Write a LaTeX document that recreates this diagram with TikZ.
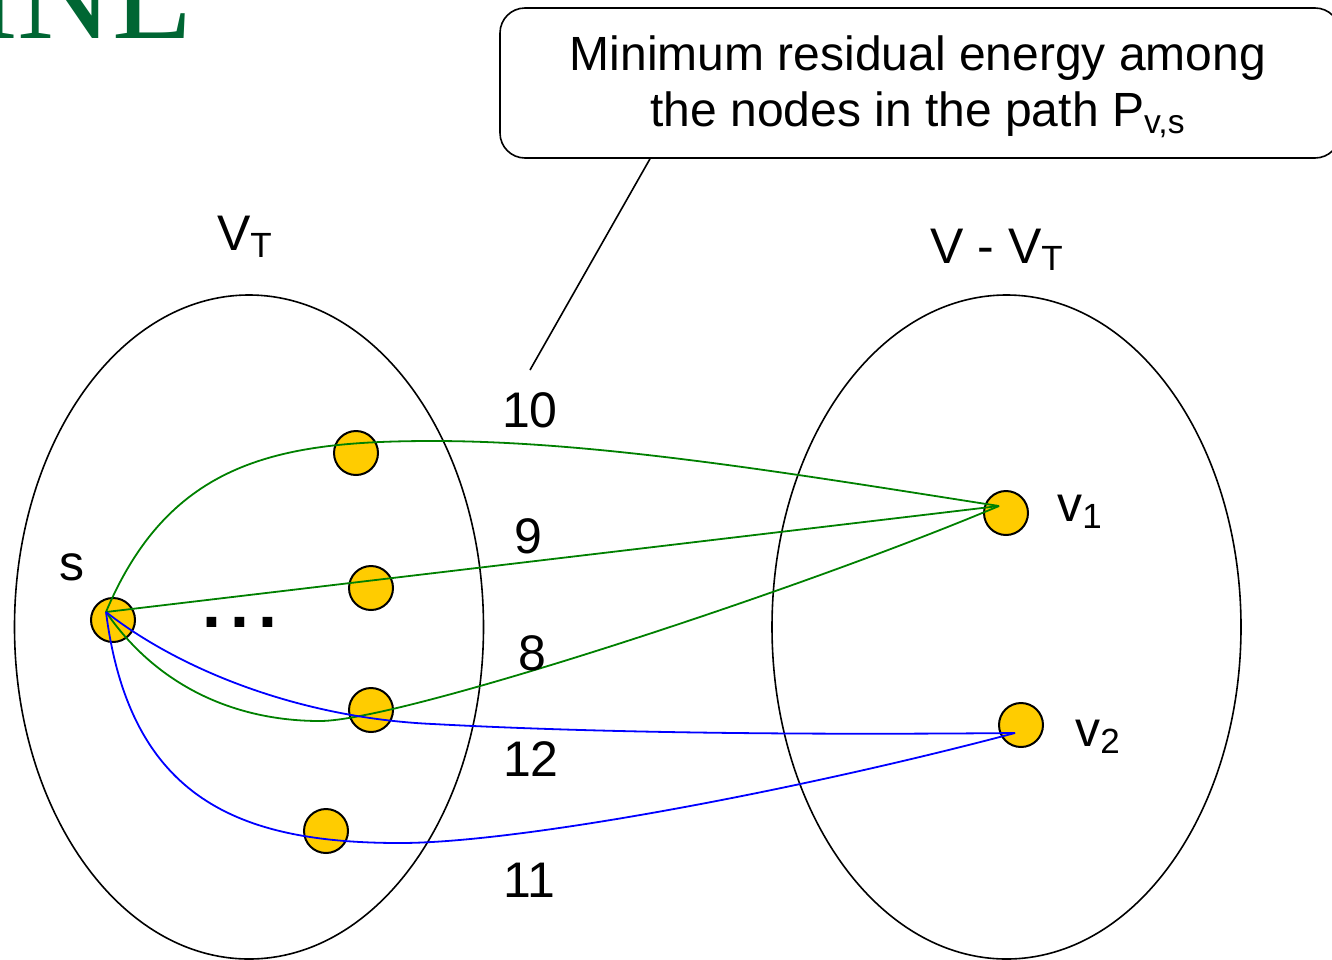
\documentclass[tikz,border=0pt]{standalone}
\usepackage{fontspec}
\setmainfont{Liberation Sans}
\newfontfamily\logofont{Liberation Serif}
\definecolor{vertexfill}{RGB}{255,204,0}
\definecolor{pathgreen}{RGB}{0,128,0}
\definecolor{pathblue}{RGB}{0,0,255}
\definecolor{logogreen}{RGB}{0,102,51}

\begin{document}
\begin{tikzpicture}[x=0.5pt,y=-0.5pt,
  vertex/.style={circle,draw,line width=1pt,fill=vertexfill,minimum size=22pt,inner sep=0pt},
  gpath/.style={pathgreen,line width=0.9pt},
  bpath/.style={pathblue,line width=0.9pt},
  set/.style={line width=0.8pt},
  callout/.style={draw,line width=0.8pt,rounded corners=12.5pt,minimum width=420pt,
    minimum height=75pt},
  lbl/.style={font=\fontsize{25}{30}\selectfont,inner sep=0pt}]
  \useasboundingbox (0,0) rectangle (1332,959);
  % Logo, cut by the page edge.
  \node[anchor=base east,inner sep=0pt,text=logogreen,
    font=\logofont\fontsize{66}{66}\selectfont] (logo) at (194,38) {MNL};
  % The two vertex sets V_T and V - V_T.
  \draw[set] (249,627) ellipse [x radius=234.5,y radius=332];
  \draw[set] (1006.5,627) ellipse [x radius=234.5,y radius=332];
  \node[lbl] (lVT) at (245,237) {V\textsubscript{T}};
  \node[lbl] (lVrest) at (997,250) {V - V\textsubscript{T}};
  % Source, tree vertices and the two outside vertices.
  \node[vertex] (s) at (113,620) {};
  \foreach \n/\x/\y in {a/356/453,b/371/588,c/371/710,d/326/831} {
    \node[vertex] (\n) at (\x,\y) {};
  }
  \node[vertex] (v1) at (1006,513) {};
  \node[vertex] (v2) at (1021,725) {};
  \node[lbl] (ls) at (72,567) {s};
  \node[lbl] (lv1) at (1080,512) {v\textsubscript{1}};
  \node[lbl] (lv2) at (1098,737) {v\textsubscript{2}};
  \node[lbl,font=\fontsize{34}{34}\selectfont\bfseries] (dots) at (240,622)
    {.\hspace{4.5pt}.\hspace{4.5pt}.};
  % Ends of the paths inside the vertices.
  \coordinate (s-in) at ([xshift=-3.5pt,yshift=4pt]s.center);
  \coordinate (v1-in) at ([xshift=-3.5pt,yshift=3.5pt]v1.center);
  \coordinate (v2-in) at ([xshift=-3pt,yshift=-4pt]v2.center);
  % Paths from s to v1 (green) and to v2 (blue).
  \draw[gpath] (s-in) .. controls (170,460) and (280,441) .. (433,441)
    .. controls (600,441) and (800,475) .. (v1-in);
  \draw[gpath] (s-in) -- (v1-in);
  \draw[gpath] (s-in) .. controls (160,690) and (240,721) .. (320,721)
    .. controls (400,721) and (800,590) .. (v1-in);
  \draw[bpath] (s-in) .. controls (180,670) and (300,718) .. (433,724)
    .. controls (600,733) and (800,735) .. (v2-in);
  \draw[bpath] (s-in) .. controls (130,800) and (240,843) .. (400,843)
    .. controls (520,843) and (800,790) .. (v2-in);
  % Path weights.
  \foreach \w/\x/\y in {10/530/410,9/528/536,8/532/653,12/531/759,11/529/880} {
    \node[lbl] (w\w) at (\x,\y) {\w};
  }
  % Callout on the weight.
  \node[callout] (callout) at (920,83) {};
  \node[lbl,align=center,font=\fontsize{24}{28}\selectfont] (callout-text) at (918,87)
    {Minimum residual energy among\\the nodes in the path P\textsubscript{v,s}};
  \coordinate (tip) at (530,370);
  \draw[line width=0.8pt] ([xshift=-135pt]callout.south) -- (tip);
\end{tikzpicture}
\end{document}
